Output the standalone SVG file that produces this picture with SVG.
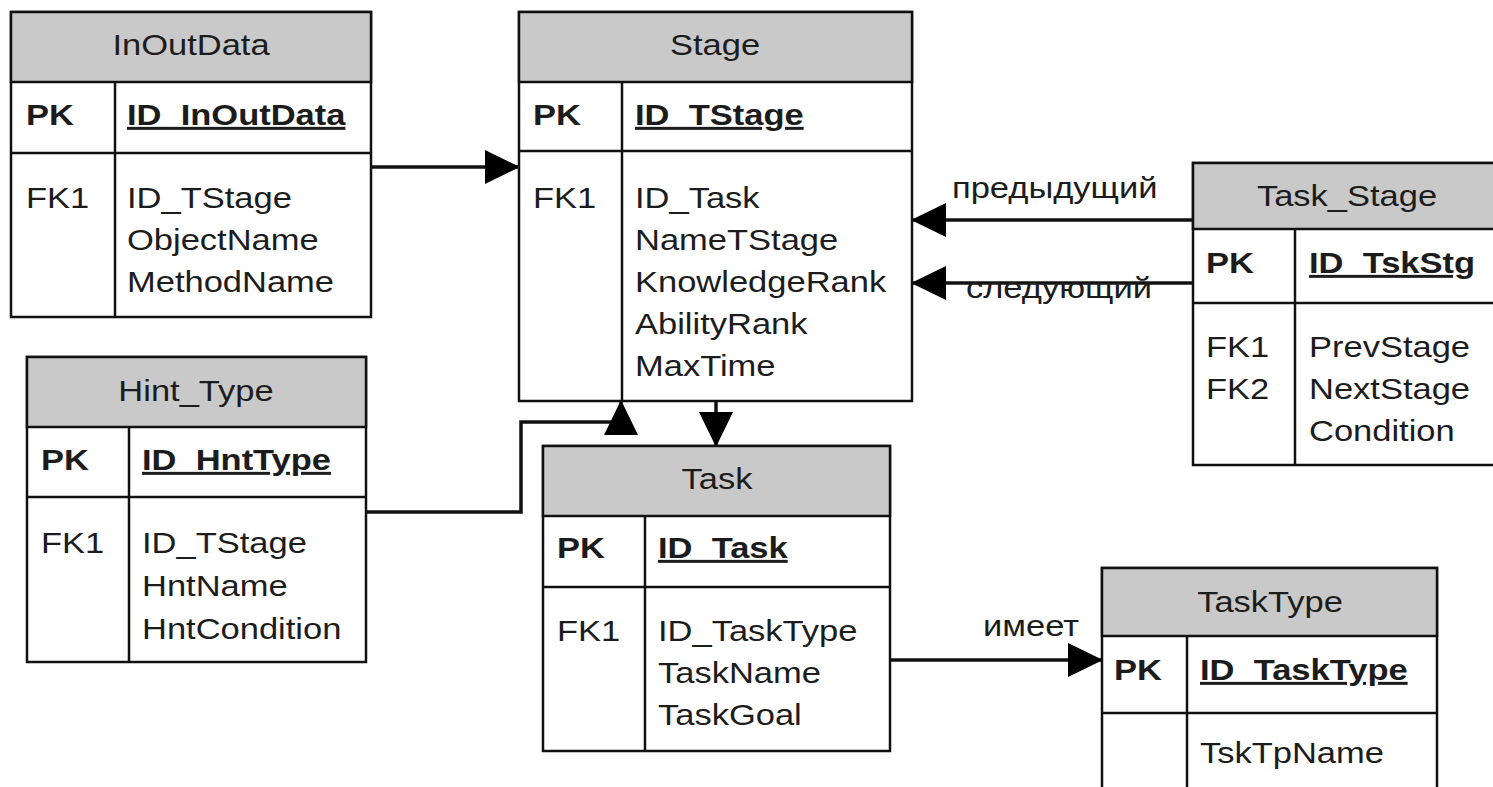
<svg xmlns="http://www.w3.org/2000/svg" width="1493" height="787" viewBox="0 0 1493 787">
<style>
.box{fill:#ffffff;stroke:#111;stroke-width:2.5}
.hdr{fill:#c9c9c9;stroke:#111;stroke-width:2.5}
.ln{stroke:#111;stroke-width:2.5;fill:none}
text{font-family:"Liberation Sans",Arial,sans-serif;font-size:30px;fill:#1c1c1c}
.t{text-anchor:middle}
.b{font-weight:bold}
.u{font-weight:bold;text-decoration:underline}
.con{stroke:#111;stroke-width:3.5;fill:none;marker-end:url(#ah)}
</style>
<defs>
<marker id="ah" viewBox="0 0 35 34" refX="34" refY="17" markerWidth="35" markerHeight="34" markerUnits="userSpaceOnUse" orient="auto">
<path d="M0,0 L35,17 L0,34 Z" fill="#000"/>
</marker>
</defs>
<rect width="1493" height="787" fill="#ffffff"/>

<g id="connectors">
<path class="con" d="M371,167 H519"/>
<path class="con" d="M1193,220 H912"/>
<path class="con" d="M1193,283 H912"/>
<path class="con" d="M716,401 V446"/>
<path class="con" d="M366,512 H521 V422 H621 V401"/>
<path class="con" d="M890,660 H1102"/>
<text transform="translate(952,198) scale(1.15,1)">предыдущий</text>
<text transform="translate(966,298) scale(1.15,1)">следующий</text>
<text transform="translate(983,636) scale(1.15,1)">имеет</text>
</g>

<g id="InOutData">
<rect class="box" x="11" y="12" width="360" height="305"/>
<rect class="hdr" x="11" y="12" width="360" height="70"/>
<line class="ln" x1="11" y1="153" x2="371" y2="153"/>
<line class="ln" x1="115" y1="82" x2="115" y2="317"/>
<text class="t" transform="translate(191,55) scale(1.15,1)">InOutData</text>
<text class="b" transform="translate(26,125) scale(1.15,1)">PK</text>
<text class="u" transform="translate(127,125) scale(1.15,1)">ID_InOutData</text>
<text transform="translate(26,208) scale(1.15,1)">FK1</text>
<text transform="translate(127,208) scale(1.15,1)">ID_TStage</text>
<text transform="translate(127,250) scale(1.15,1)">ObjectName</text>
<text transform="translate(127,292) scale(1.15,1)">MethodName</text>
</g>

<g id="Stage">
<rect class="box" x="519" y="12" width="393" height="389"/>
<rect class="hdr" x="519" y="12" width="393" height="70"/>
<line class="ln" x1="519" y1="151" x2="912" y2="151"/>
<line class="ln" x1="622" y1="82" x2="622" y2="401"/>
<text class="t" transform="translate(715,55) scale(1.15,1)">Stage</text>
<text class="b" transform="translate(533,125) scale(1.15,1)">PK</text>
<text class="u" transform="translate(635,125) scale(1.15,1)">ID_TStage</text>
<text transform="translate(533,208) scale(1.15,1)">FK1</text>
<text transform="translate(635,208) scale(1.15,1)">ID_Task</text>
<text transform="translate(635,250) scale(1.15,1)">NameTStage</text>
<text transform="translate(635,292) scale(1.15,1)">KnowledgeRank</text>
<text transform="translate(635,334) scale(1.15,1)">AbilityRank</text>
<text transform="translate(635,376) scale(1.15,1)">MaxTime</text>
</g>

<g id="Task_Stage">
<rect class="box" x="1193" y="163" width="310" height="302"/>
<rect class="hdr" x="1193" y="163" width="310" height="66"/>
<line class="ln" x1="1193" y1="303" x2="1503" y2="303"/>
<line class="ln" x1="1295" y1="229" x2="1295" y2="465"/>
<text class="t" transform="translate(1347,206) scale(1.15,1)">Task_Stage</text>
<text class="b" transform="translate(1206,273) scale(1.15,1)">PK</text>
<text class="u" transform="translate(1309,273) scale(1.15,1)">ID_TskStg</text>
<text transform="translate(1206,357) scale(1.15,1)">FK1</text>
<text transform="translate(1206,399) scale(1.15,1)">FK2</text>
<text transform="translate(1309,357) scale(1.15,1)">PrevStage</text>
<text transform="translate(1309,399) scale(1.15,1)">NextStage</text>
<text transform="translate(1309,441) scale(1.15,1)">Condition</text>
</g>

<g id="Hint_Type">
<rect class="box" x="27" y="357" width="339" height="305"/>
<rect class="hdr" x="27" y="357" width="339" height="70"/>
<line class="ln" x1="27" y1="497" x2="366" y2="497"/>
<line class="ln" x1="129" y1="427" x2="129" y2="662"/>
<text class="t" transform="translate(196,401) scale(1.15,1)">Hint_Type</text>
<text class="b" transform="translate(41,470) scale(1.15,1)">PK</text>
<text class="u" transform="translate(142,470) scale(1.15,1)">ID_HntType</text>
<text transform="translate(41,553) scale(1.15,1)">FK1</text>
<text transform="translate(142,553) scale(1.15,1)">ID_TStage</text>
<text transform="translate(142,596) scale(1.15,1)">HntName</text>
<text transform="translate(142,639) scale(1.15,1)">HntCondition</text>
</g>

<g id="Task">
<rect class="box" x="543" y="446" width="347" height="305"/>
<rect class="hdr" x="543" y="446" width="347" height="70"/>
<line class="ln" x1="543" y1="587" x2="890" y2="587"/>
<line class="ln" x1="645" y1="516" x2="645" y2="751"/>
<text class="t" transform="translate(717,489) scale(1.15,1)">Task</text>
<text class="b" transform="translate(557,558) scale(1.15,1)">PK</text>
<text class="u" transform="translate(658,558) scale(1.15,1)">ID_Task</text>
<text transform="translate(557,641) scale(1.15,1)">FK1</text>
<text transform="translate(658,641) scale(1.15,1)">ID_TaskType</text>
<text transform="translate(658,683) scale(1.15,1)">TaskName</text>
<text transform="translate(658,725) scale(1.15,1)">TaskGoal</text>
</g>

<g id="TaskType">
<rect class="box" x="1102" y="568" width="335" height="240"/>
<rect class="hdr" x="1102" y="568" width="335" height="68"/>
<line class="ln" x1="1102" y1="713" x2="1437" y2="713"/>
<line class="ln" x1="1187" y1="636" x2="1187" y2="808"/>
<text class="t" transform="translate(1270,612) scale(1.15,1)">TaskType</text>
<text class="b" transform="translate(1114,680) scale(1.15,1)">PK</text>
<text class="u" transform="translate(1200,680) scale(1.15,1)">ID_TaskType</text>
<text transform="translate(1200,763) scale(1.15,1)">TskTpName</text>
</g>
</svg>
